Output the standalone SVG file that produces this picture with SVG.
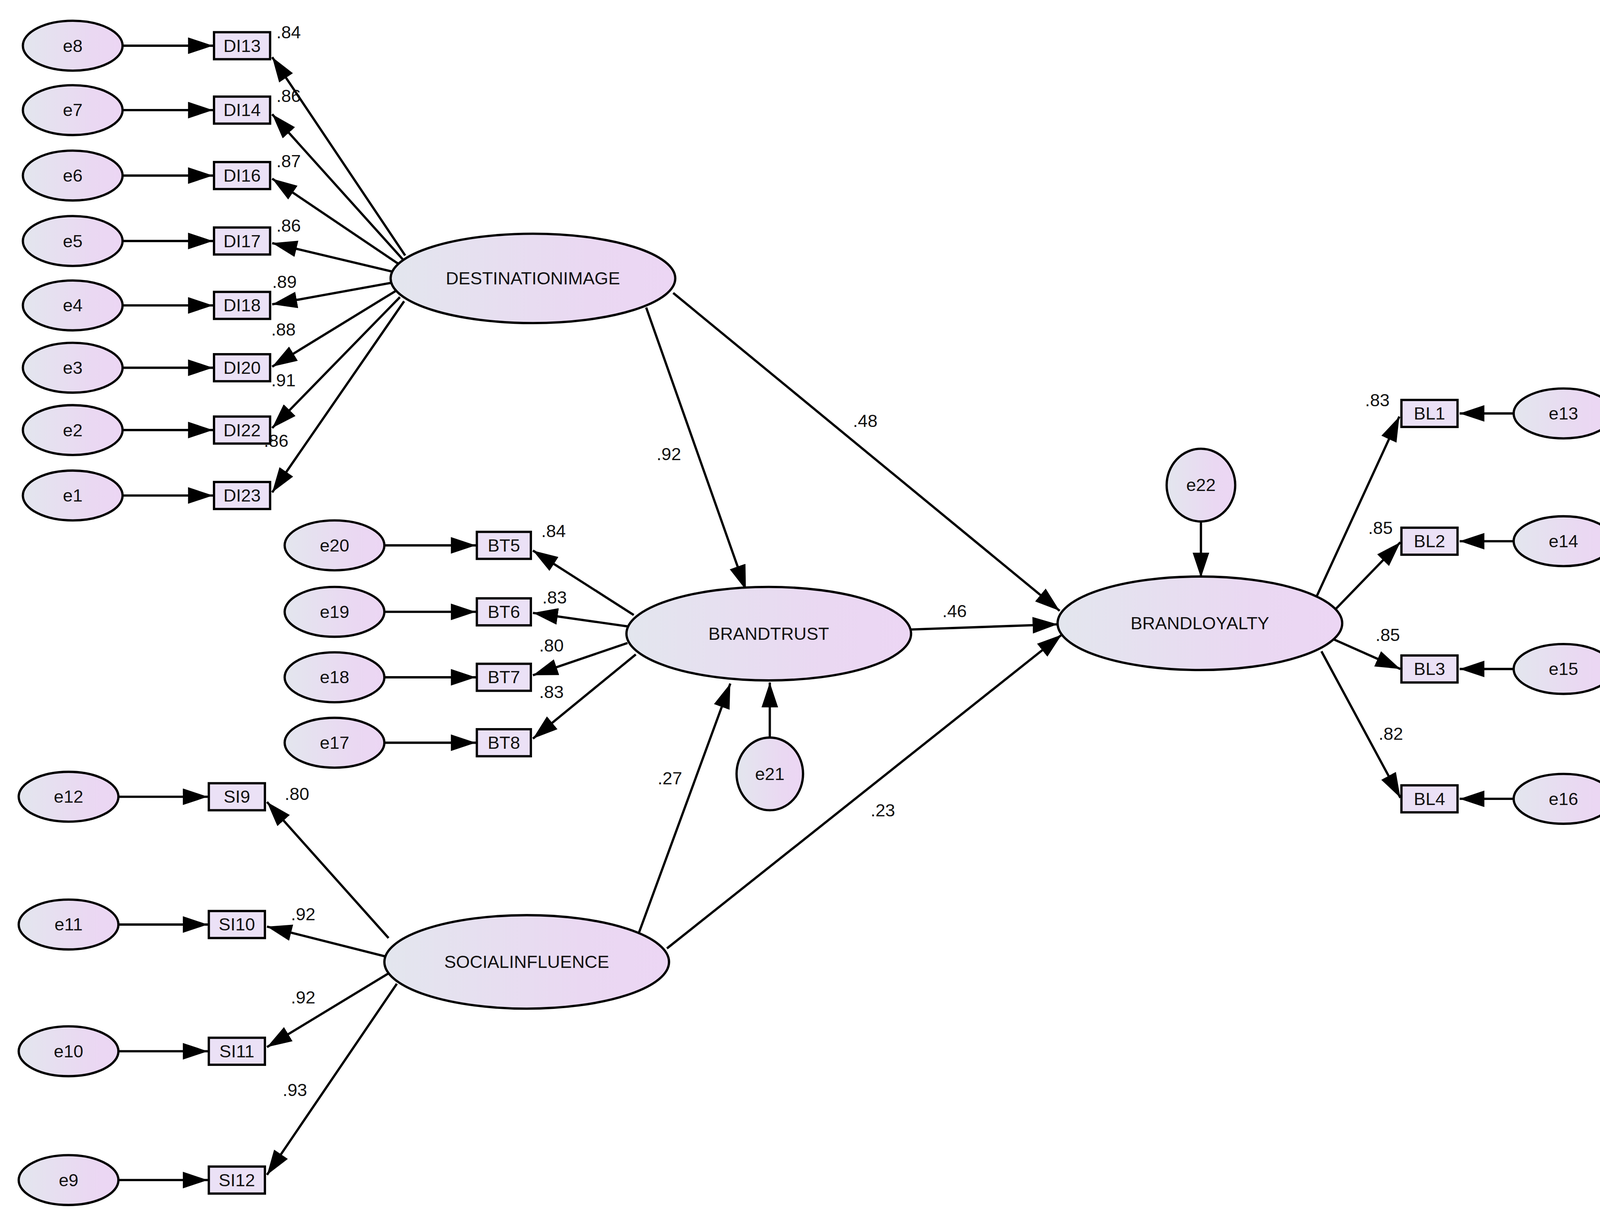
<svg xmlns="http://www.w3.org/2000/svg" width="4170" height="3126" viewBox="0 0 4170 3126">
<defs>
<linearGradient id="g" x1="0" x2="1" y1="0" y2="0"><stop offset="0" stop-color="#e3e6ee"/><stop offset="0.7" stop-color="#ead8f2"/><stop offset="1" stop-color="#ecd6f4"/></linearGradient>
<marker id="a" markerUnits="userSpaceOnUse" markerWidth="26" markerHeight="18" refX="24" refY="8" orient="auto"><path d="M0,0 L24,8 L0,16 Z" fill="#000"/></marker>
<style>
.e{fill:url(#g);stroke:#000;stroke-width:2.2}
.b{fill:#ebe1f6;stroke:#000;stroke-width:2.2}
.t{font-family:"Liberation Sans",Arial,sans-serif;font-size:17px;fill:#111;text-anchor:middle;dominant-baseline:central}
.l{font-family:"Liberation Sans",Arial,sans-serif;font-size:17px;fill:#111}
#conn line{stroke:#000;stroke-width:2.2;marker-end:url(#a)}
</style>
</defs>
<rect width="4170" height="3126" fill="#fff"/>
<g transform="scale(2.6595)">
<g id="labels">
<text class="l" x="266" y="37">.84</text><text class="l" x="266" y="98">.86</text><text class="l" x="266" y="161">.87</text><text class="l" x="266" y="223">.86</text><text class="l" x="262" y="277">.89</text><text class="l" x="261" y="323">.88</text><text class="l" x="261" y="372">.91</text><text class="l" x="254" y="430">.86</text>
<text class="l" x="521" y="517">.84</text><text class="l" x="522" y="581">.83</text><text class="l" x="519" y="627">.80</text><text class="l" x="519" y="672">.83</text>
<text class="l" x="274" y="770">.80</text><text class="l" x="280" y="886">.92</text><text class="l" x="280" y="966">.92</text><text class="l" x="272" y="1055">.93</text>
<text class="l" x="632" y="443">.92</text><text class="l" x="821" y="411">.48</text><text class="l" x="907" y="594">.46</text><text class="l" x="633" y="755">.27</text><text class="l" x="838" y="786">.23</text>
<text class="l" x="1314" y="391">.83</text><text class="l" x="1317" y="514">.85</text><text class="l" x="1324" y="617">.85</text><text class="l" x="1327" y="712">.82</text>
</g>
<g id="conn">
<line x1="118" y1="44" x2="205" y2="44"/><line x1="118" y1="106" x2="205" y2="106"/><line x1="118" y1="169" x2="205" y2="169"/><line x1="118" y1="232" x2="205" y2="232"/><line x1="118" y1="294" x2="205" y2="294"/><line x1="118" y1="354" x2="205" y2="354"/><line x1="118" y1="414" x2="205" y2="414"/><line x1="118" y1="477" x2="205" y2="477"/>
<line x1="390" y1="246" x2="262" y2="55"/><line x1="388" y1="250" x2="262" y2="110"/><line x1="385" y1="255" x2="262" y2="172"/><line x1="380" y1="262" x2="262" y2="234"/><line x1="378" y1="272" x2="262" y2="293"/><line x1="381" y1="280" x2="262" y2="353"/><line x1="385" y1="286" x2="262" y2="412"/><line x1="389" y1="290" x2="262" y2="474"/>
<line x1="370" y1="525" x2="458" y2="525"/><line x1="370" y1="589" x2="458" y2="589"/><line x1="370" y1="652" x2="458" y2="652"/><line x1="370" y1="715" x2="458" y2="715"/>
<line x1="610" y1="592" x2="513" y2="530"/><line x1="604" y1="603" x2="513" y2="590"/><line x1="604" y1="619" x2="513" y2="650"/><line x1="612" y1="630" x2="513" y2="711"/>
<line x1="114" y1="767" x2="200" y2="767"/><line x1="114" y1="890" x2="200" y2="890"/><line x1="114" y1="1012" x2="200" y2="1012"/><line x1="114" y1="1136" x2="200" y2="1136"/>
<line x1="374" y1="903" x2="257" y2="772"/><line x1="372" y1="921" x2="257" y2="892"/><line x1="374" y1="937" x2="257" y2="1008"/><line x1="382" y1="947" x2="257" y2="1131"/>
<line x1="622" y1="296" x2="718" y2="568"/><line x1="648" y1="282" x2="1020" y2="588"/><line x1="877" y1="606" x2="1018" y2="601"/><line x1="615" y1="898" x2="703" y2="658"/><line x1="642" y1="913" x2="1022" y2="611"/>
<line x1="741" y1="710" x2="741" y2="657"/><line x1="1156" y1="502" x2="1156" y2="556"/>
<line x1="1267" y1="575" x2="1347" y2="401"/><line x1="1286" y1="586" x2="1348" y2="522"/><line x1="1276" y1="612" x2="1348" y2="644"/><line x1="1272" y1="627" x2="1348" y2="768"/>
<line x1="1457" y1="398" x2="1405" y2="398"/><line x1="1457" y1="521" x2="1405" y2="521"/><line x1="1457" y1="644" x2="1405" y2="644"/><line x1="1457" y1="769" x2="1405" y2="769"/>
</g>
<g id="e8"><ellipse class="e" cx="70" cy="44" rx="48" ry="24"/><text class="t" x="70" y="44">e8</text></g>
<g id="e7"><ellipse class="e" cx="70" cy="106" rx="48" ry="24"/><text class="t" x="70" y="106">e7</text></g>
<g id="e6"><ellipse class="e" cx="70" cy="169" rx="48" ry="24"/><text class="t" x="70" y="169">e6</text></g>
<g id="e5"><ellipse class="e" cx="70" cy="232" rx="48" ry="24"/><text class="t" x="70" y="232">e5</text></g>
<g id="e4"><ellipse class="e" cx="70" cy="294" rx="48" ry="24"/><text class="t" x="70" y="294">e4</text></g>
<g id="e3"><ellipse class="e" cx="70" cy="354" rx="48" ry="24"/><text class="t" x="70" y="354">e3</text></g>
<g id="e2"><ellipse class="e" cx="70" cy="414" rx="48" ry="24"/><text class="t" x="70" y="414">e2</text></g>
<g id="e1"><ellipse class="e" cx="70" cy="477" rx="48" ry="24"/><text class="t" x="70" y="477">e1</text></g>
<g id="DI13"><rect class="b" x="206" y="31" width="54" height="26"/><text class="t" x="233" y="44">DI13</text></g>
<g id="DI14"><rect class="b" x="206" y="93" width="54" height="26"/><text class="t" x="233" y="106">DI14</text></g>
<g id="DI16"><rect class="b" x="206" y="156" width="54" height="26"/><text class="t" x="233" y="169">DI16</text></g>
<g id="DI17"><rect class="b" x="206" y="219" width="54" height="26"/><text class="t" x="233" y="232">DI17</text></g>
<g id="DI18"><rect class="b" x="206" y="281" width="54" height="26"/><text class="t" x="233" y="294">DI18</text></g>
<g id="DI20"><rect class="b" x="206" y="341" width="54" height="26"/><text class="t" x="233" y="354">DI20</text></g>
<g id="DI22"><rect class="b" x="206" y="401" width="54" height="26"/><text class="t" x="233" y="414">DI22</text></g>
<g id="DI23"><rect class="b" x="206" y="464" width="54" height="26"/><text class="t" x="233" y="477">DI23</text></g>
<g id="DESTINATIONIMAGE"><ellipse class="e" cx="513" cy="268" rx="137" ry="43"/><text class="t" x="513" y="268">DESTINATIONIMAGE</text></g>
<g id="e20"><ellipse class="e" cx="322" cy="525" rx="48" ry="24"/><text class="t" x="322" y="525">e20</text></g>
<g id="e19"><ellipse class="e" cx="322" cy="589" rx="48" ry="24"/><text class="t" x="322" y="589">e19</text></g>
<g id="e18"><ellipse class="e" cx="322" cy="652" rx="48" ry="24"/><text class="t" x="322" y="652">e18</text></g>
<g id="e17"><ellipse class="e" cx="322" cy="715" rx="48" ry="24"/><text class="t" x="322" y="715">e17</text></g>
<g id="BT5"><rect class="b" x="459" y="512" width="52" height="26"/><text class="t" x="485" y="525">BT5</text></g>
<g id="BT6"><rect class="b" x="459" y="576" width="52" height="26"/><text class="t" x="485" y="589">BT6</text></g>
<g id="BT7"><rect class="b" x="459" y="639" width="52" height="26"/><text class="t" x="485" y="652">BT7</text></g>
<g id="BT8"><rect class="b" x="459" y="702" width="52" height="26"/><text class="t" x="485" y="715">BT8</text></g>
<g id="BRANDTRUST"><ellipse class="e" cx="740" cy="610" rx="137" ry="45"/><text class="t" x="740" y="610">BRANDTRUST</text></g>
<g id="e21"><ellipse class="e" cx="741" cy="745" rx="32" ry="35"/><text class="t" x="741" y="745">e21</text></g>
<g id="e12"><ellipse class="e" cx="66" cy="767" rx="48" ry="24"/><text class="t" x="66" y="767">e12</text></g>
<g id="e11"><ellipse class="e" cx="66" cy="890" rx="48" ry="24"/><text class="t" x="66" y="890">e11</text></g>
<g id="e10"><ellipse class="e" cx="66" cy="1012" rx="48" ry="24"/><text class="t" x="66" y="1012">e10</text></g>
<g id="e9"><ellipse class="e" cx="66" cy="1136" rx="48" ry="24"/><text class="t" x="66" y="1136">e9</text></g>
<g id="SI9"><rect class="b" x="201" y="754" width="54" height="26"/><text class="t" x="228" y="767">SI9</text></g>
<g id="SI10"><rect class="b" x="201" y="877" width="54" height="26"/><text class="t" x="228" y="890">SI10</text></g>
<g id="SI11"><rect class="b" x="201" y="999" width="54" height="26"/><text class="t" x="228" y="1012">SI11</text></g>
<g id="SI12"><rect class="b" x="201" y="1123" width="54" height="26"/><text class="t" x="228" y="1136">SI12</text></g>
<g id="SOCIALINFLUENCE"><ellipse class="e" cx="507" cy="926" rx="137" ry="45"/><text class="t" x="507" y="926">SOCIALINFLUENCE</text></g>
<g id="BRANDLOYALTY"><ellipse class="e" cx="1155" cy="600" rx="137" ry="45"/><text class="t" x="1155" y="600">BRANDLOYALTY</text></g>
<g id="e22"><ellipse class="e" cx="1156" cy="467" rx="33" ry="35"/><text class="t" x="1156" y="467">e22</text></g>
<g id="BL1"><rect class="b" x="1349" y="385" width="54" height="26"/><text class="t" x="1376" y="398">BL1</text></g>
<g id="BL2"><rect class="b" x="1349" y="508" width="54" height="26"/><text class="t" x="1376" y="521">BL2</text></g>
<g id="BL3"><rect class="b" x="1349" y="631" width="54" height="26"/><text class="t" x="1376" y="644">BL3</text></g>
<g id="BL4"><rect class="b" x="1349" y="756" width="54" height="26"/><text class="t" x="1376" y="769">BL4</text></g>
<g id="e13"><ellipse class="e" cx="1505" cy="398" rx="48" ry="24"/><text class="t" x="1505" y="398">e13</text></g>
<g id="e14"><ellipse class="e" cx="1505" cy="521" rx="48" ry="24"/><text class="t" x="1505" y="521">e14</text></g>
<g id="e15"><ellipse class="e" cx="1505" cy="644" rx="48" ry="24"/><text class="t" x="1505" y="644">e15</text></g>
<g id="e16"><ellipse class="e" cx="1505" cy="769" rx="48" ry="24"/><text class="t" x="1505" y="769">e16</text></g>
</g>
</svg>
